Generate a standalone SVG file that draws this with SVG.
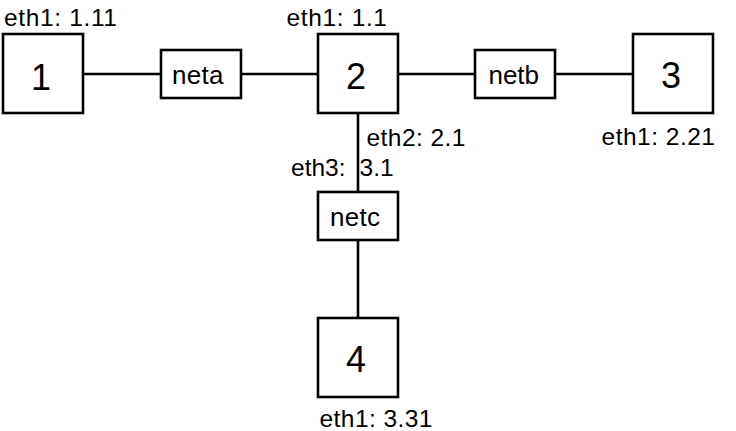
<svg xmlns="http://www.w3.org/2000/svg" width="736" height="431" viewBox="0 0 736 431">
<style>
rect{fill:#fff;stroke:#000;stroke-width:2.6}
line{stroke:#000;stroke-width:2.6}
text{font-family:"Liberation Sans",Arial,sans-serif;fill:#000}
.num{font-size:36px;text-anchor:middle}
.net{font-size:26px}
.eth{font-size:24.5px}
</style>
<rect width="736" height="431" style="fill:#fff;stroke:none"/>
<g id="connectors">
<line x1="83" y1="74" x2="161" y2="74"/>
<line x1="241" y1="74" x2="318" y2="74"/>
<line x1="398" y1="74" x2="475" y2="74"/>
<line x1="555" y1="74" x2="633" y2="74"/>
<line x1="358" y1="113" x2="358" y2="192"/>
<line x1="358" y1="240" x2="358" y2="318"/>
</g>
<g id="node1">
<rect x="3" y="34" width="80" height="79"/>
<text class="num" x="41" y="90">1</text>
<text class="eth" x="4" y="26" textLength="113" lengthAdjust="spacing">eth1: 1.11</text>
</g>
<g id="neta">
<rect x="161" y="50" width="80" height="48"/>
<text class="net" x="172" y="84" textLength="51.5" lengthAdjust="spacing">neta</text>
</g>
<g id="node2">
<rect x="318" y="34" width="80" height="79"/>
<text class="num" x="356" y="88.5">2</text>
<text class="eth" x="286.5" y="26" textLength="100.5" lengthAdjust="spacing">eth1: 1.1</text>
<text class="eth" x="366.5" y="146" textLength="99" lengthAdjust="spacing">eth2: 2.1</text>
<text class="eth" x="291" y="176">eth3: <tspan x="359.5">3.1</tspan></text>
</g>
<g id="netb">
<rect x="475" y="50" width="80" height="48"/>
<text class="net" x="488.5" y="83.5" textLength="50.5" lengthAdjust="spacing">netb</text>
</g>
<g id="node3">
<rect x="633" y="34" width="80" height="79"/>
<text class="num" x="671" y="88">3</text>
<text class="eth" x="601.5" y="144.5" textLength="113.5" lengthAdjust="spacing">eth1: 2.21</text>
</g>
<g id="netc">
<rect x="318" y="192" width="80" height="48"/>
<text class="net" x="330" y="226" textLength="50" lengthAdjust="spacing">netc</text>
</g>
<g id="node4">
<rect x="318" y="318" width="80" height="79"/>
<text class="num" x="356" y="372">4</text>
<text class="eth" x="319.5" y="427" textLength="113" lengthAdjust="spacing">eth1: 3.31</text>
</g>
</svg>
